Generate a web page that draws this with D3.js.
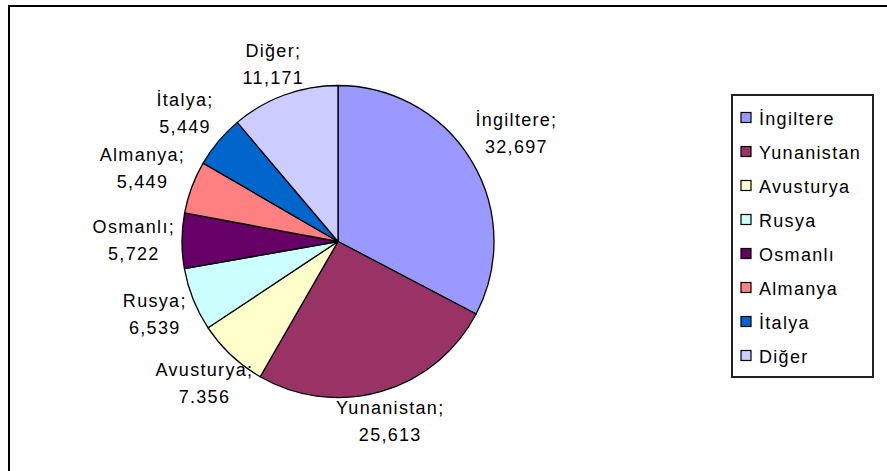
<!DOCTYPE html>
<html>
<head>
<meta charset="utf-8">
<script src="https://cdn.jsdelivr.net/npm/d3@7"></script>
<style>
  body { margin: 0; background: #fff; }
  svg { display: block; font-family: "Liberation Sans", Arial, sans-serif; }
</style>
</head>
<body>
<svg id="chart" width="887" height="471"></svg>
<script>
// data
const categories  = ["İngiltere", "Yunanistan", "Avusturya", "Rusya", "Osmanlı", "Almanya", "İtalya", "Diğer"];
const values      = [32.697, 25.613, 7.356, 6.539, 5.722, 5.449, 5.449, 11.171];
const valueLabels = ["32,697", "25,613", "7.356", "6,539", "5,722", "5,449", "5,449", "11,171"];
const colors      = ["#9999FF", "#993366", "#FFFFCC", "#CCFFFF", "#660066", "#FF8080", "#0066CC", "#CCCCFF"];

const svg = d3.select("#chart");

// outer chart border (right/bottom fall outside the picture)
svg.append("rect")
  .attr("x", 9).attr("y", 6)
  .attr("width", 920).attr("height", 520)
  .attr("fill", "#fff")
  .attr("stroke", "#000")
  .attr("stroke-width", 2);

// pie
const cx = 338, cy = 241.5, r = 156;
const g = svg.append("g").attr("transform", `translate(${cx},${cy})`);

const arcs = d3.pie().sort(null).value(d => d)(values);
const arc  = d3.arc().innerRadius(0).outerRadius(r);
const color = d3.scaleOrdinal().domain(categories).range(colors);

g.selectAll("path")
  .data(arcs)
  .join("path")
    .attr("d", arc)
    .attr("fill", (d, i) => color(categories[i]))
    .attr("stroke", "#000")
    .attr("stroke-width", 1.3)
    .attr("stroke-linejoin", "round");

// data labels, text box sits just outside the slice midpoint
const lineH = 27;
const labels = g.selectAll("text.lbl")
  .data(arcs)
  .join("text")
    .attr("class", "lbl")
    .attr("text-anchor", "middle")
    .style("font-size", "18px")
    .style("letter-spacing", "1.3px")
    .attr("fill", "#000");

labels.append("tspan").attr("x", 0).attr("y", 0).text((d, i) => categories[i] + ";");
labels.append("tspan").attr("x", 0).attr("y", lineH).text((d, i) => valueLabels[i]);

labels.each(function(d) {
  const a  = (d.startAngle + d.endAngle) / 2;
  const ux = Math.sin(a), uy = -Math.cos(a);
  const bb = this.getBBox();
  const hw = bb.width / 2, hh = bb.height / 2;
  const t  = Math.min(
    Math.abs(ux) > 1e-6 ? hw / Math.abs(ux) : Infinity,
    Math.abs(uy) > 1e-6 ? hh / Math.abs(uy) : Infinity
  );
  const R  = r + 7 + t;
  const qx = R * ux, qy = R * uy;
  const bcx = bb.x + hw, bcy = bb.y + hh;
  d3.select(this).attr("transform", `translate(${qx - bcx},${qy - bcy})`);
});

// legend
const lgX = 732, lgY = 95, lgW = 141, lgH = 282;
const legend = svg.append("g");
legend.append("rect")
  .attr("x", lgX).attr("y", lgY)
  .attr("width", lgW).attr("height", lgH)
  .attr("fill", "#fff")
  .attr("stroke", "#222")
  .attr("stroke-width", 2);

const rowY = d3.scalePoint().domain(categories).range([118, 356]);

const items = legend.selectAll("g.item")
  .data(categories)
  .join("g")
    .attr("class", "item")
    .attr("transform", d => `translate(${lgX + 9},${rowY(d)})`);

items.append("rect")
  .attr("x", 0).attr("y", -5.5)
  .attr("width", 10).attr("height", 10)
  .attr("fill", d => color(d))
  .attr("stroke", "#000")
  .attr("stroke-width", 1.2);

items.append("text")
  .attr("x", 18).attr("y", 6.5)
  .style("font-size", "18px")
  .style("letter-spacing", "1.3px")
  .text(d => d);
</script>
</body>
</html>
